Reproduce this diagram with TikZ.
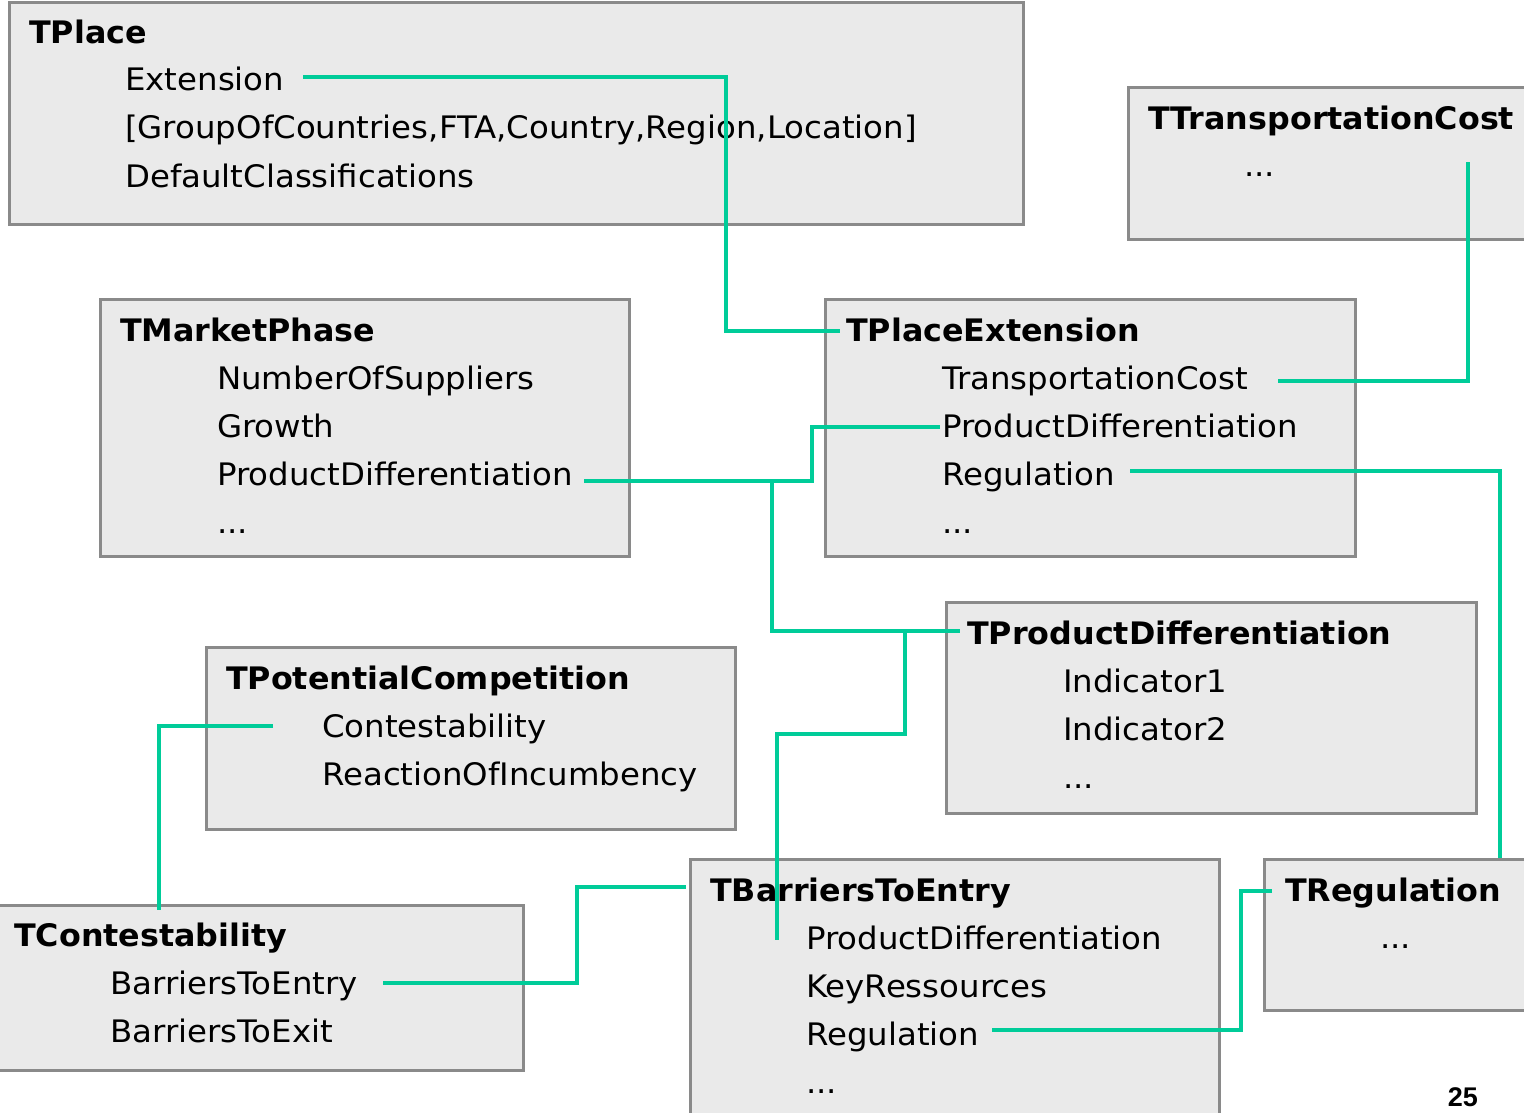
\documentclass[tikz,border=0pt]{standalone}
\usepackage{fontspec}
\setmainfont{DejaVu Sans}
\newfontfamily\itemfont{DejaVu Sans}[FakeStretch=1.045]
\newfontfamily\titlefont{DejaVu Sans}[FakeStretch=1.025]
\newfontfamily\numfont{Liberation Sans}
\definecolor{boxfill}{HTML}{EAEAEA}
\definecolor{boxline}{HTML}{8A8A8A}
\definecolor{link}{RGB}{0,204,153}
\begin{document}
\begin{tikzpicture}[x=1pt,y=-1pt,
  classbox/.style={draw=boxline,fill=boxfill,line width=3pt},
  title/.style={anchor=base west,inner sep=0pt,font=\titlefont\fontsize{31}{37}\selectfont\bfseries},
  item/.style={anchor=base west,inner sep=0pt,font=\itemfont\fontsize{31}{37}\selectfont},
  conn/.style={draw=link,line width=3.5pt}]
\useasboundingbox (0,0) rectangle (1524,1113);

% boxes
\draw[classbox] (9,3) rectangle (1023,224) coordinate (placebox);
\draw[classbox] (1128,88) rectangle (1530,239) coordinate (tcbox);
\draw[classbox] (100,299) rectangle (629,556) coordinate (mpbox);
\draw[classbox] (825,299) rectangle (1355,556) coordinate (pebox);
\draw[classbox] (946,602) rectangle (1476,813) coordinate (pdbox);
\draw[classbox] (206,647) rectangle (735,829) coordinate (pcbox);
\draw[classbox] (-2,905) rectangle (523,1070) coordinate (cobox);
\draw[classbox] (690,859) rectangle (1219,1120) coordinate (bebox);
\draw[classbox] (1264,859) rectangle (1530,1010) coordinate (rgbox);

% TPlace
\node[title] (tplace) at (29,44) {TPlace};
\node[item] (tplaceA) at (125,91) {Extension};
\node[item] (tplaceB) at (125,139) {[GroupOfCountries,FTA,Country,Region,Location]};
\node[item] (tplaceC) at (125,187) {DefaultClassifications};

% TTransportationCost
\node[title] (ttc) at (1148,130) {TTransportationCost};
\node[item] (ttcA) at (1244,177) {...};

% TMarketPhase
\node[title] (tmp) at (120,341) {TMarketPhase};
\node[item] (tmpA) at (217,389) {NumberOfSuppliers};
\node[item] (tmpB) at (217,437) {Growth};
\node[item] (tmpC) at (217,485) {ProductDifferentiation};
\node[item] (tmpD) at (217,533) {...};

% TPlaceExtension
\node[title] (tpe) at (846,341) {TPlaceExtension};
\node[item] (tpeA) at (942,389) {TransportationCost};
\node[item] (tpeB) at (942,437) {ProductDifferentiation};
\node[item] (tpeC) at (942,485) {Regulation};
\node[item] (tpeD) at (942,533) {...};

% TProductDifferentiation
\node[title] (tpd) at (967,644) {TProductDifferentiation};
\node[item] (tpdA) at (1063,692) {Indicator1};
\node[item] (tpdB) at (1063,740) {Indicator2};
\node[item] (tpdC) at (1063,788) {...};

% TPotentialCompetition
\node[title] (tpc) at (226,689) {TPotentialCompetition};
\node[item] (tpcA) at (322,737) {Contestability};
\node[item] (tpcB) at (322,785) {ReactionOfIncumbency};

% TContestability
\node[title] (tco) at (14,946) {TContestability};
\node[item] (tcoA) at (110,994) {BarriersToEntry};
\node[item] (tcoB) at (110,1042) {BarriersToExit};

% TBarriersToEntry
\node[title] (tbe) at (710,901) {TBarriersToEntry};
\node[item] (tbeA) at (806,949) {ProductDifferentiation};
\node[item] (tbeB) at (806,997) {KeyRessources};
\node[item] (tbeC) at (806,1045) {Regulation};
\node[item] (tbeD) at (806,1093) {...};

% TRegulation
\node[title] (trg) at (1285,901) {TRegulation};
\node[item] (trgA) at (1380,948) {...};

% page number
\node[anchor=base east,inner sep=0pt,font=\numfont\fontsize{27}{30}\selectfont\bfseries] (pagenum) at (1478,1106) {25};

% connector end points
\coordinate (c1s) at (303,77);
\coordinate (c1e) at (840,331);
\coordinate (c2s) at (1278,381);
\coordinate (c2e) at (1468,162);
\coordinate (c3s) at (584,481);
\coordinate (c3e) at (940,427);
\coordinate (c3j) at (772,481);
\coordinate (c4e) at (960,631);
\coordinate (c4j) at (905,631);
\coordinate (c5e) at (777,940);
\coordinate (c6s) at (1130,471);
\coordinate (c6e) at (1500,858);
\coordinate (c7s) at (273,726);
\coordinate (c7e) at (159,910);
\coordinate (c8s) at (383,983);
\coordinate (c8e) at (686,887);
\coordinate (c9s) at (992,1030);
\coordinate (c9e) at (1272,891);

% connectors
\draw[conn] (c1s) -| (726,331) -- (c1e);
\draw[conn] (c2s) -| (c2e);
\draw[conn] (c3s) -- (812,481) |- (c3e);
\draw[conn] (c3j) |- (c4e);
\draw[conn] (c4j) |- (777,734) -- (c5e);
\draw[conn] (c6s) -| (c6e);
\draw[conn] (c7s) -| (c7e);
\draw[conn] (c8s) -| (577,887) -- (c8e);
\draw[conn] (c9s) -| (1241,891) -- (c9e);
\end{tikzpicture}
\end{document}
